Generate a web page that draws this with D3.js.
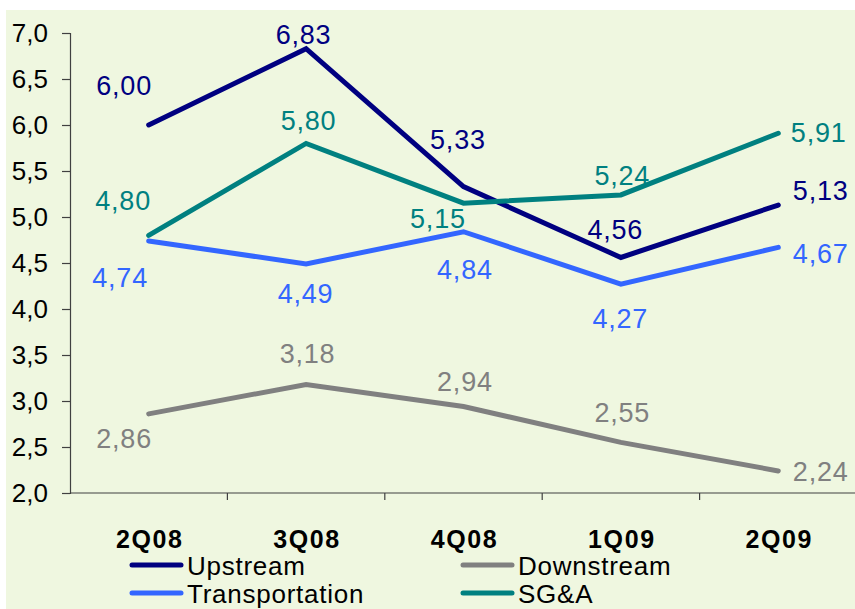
<!DOCTYPE html>
<html>
<head>
<meta charset="utf-8">
<script src="https://cdn.jsdelivr.net/npm/d3@7"></script>
<style>
  html, body { margin: 0; padding: 0; background: #ffffff; }
  svg { display: block; font-family: "Liberation Sans", Arial, sans-serif; }
</style>
</head>
<body>
<svg id="chart" width="855" height="609"></svg>
<script>
// Quarterly unit costs per segment
const quarters = ["2Q08", "3Q08", "4Q08", "1Q09", "2Q09"];
const upstream = [6.00, 6.83, 5.33, 4.56, 5.13];
const downstream = [2.86, 3.18, 2.94, 2.55, 2.24];
const transportation = [4.74, 4.49, 4.84, 4.27, 4.67];
const sga = [4.80, 5.80, 5.15, 5.24, 5.91];
const seriesNames = ["Upstream", "Downstream", "Transportation", "SG&A"];
const yTicks = [2.0, 2.5, 3.0, 3.5, 4.0, 4.5, 5.0, 5.5, 6.0, 6.5, 7.0];

const colors = {
  "Upstream": "#000080",
  "Downstream": "#808080",
  "Transportation": "#3366ff",
  "SG&A": "#008080"
};

// Value-label placement (pixel offset from each point)
const labelOffsets = {
  "Upstream":       [[-25, -40], [-3, -14], [-6, -47], [-6, -28], [42, -15]],
  "Downstream":     [[-25, 24], [1, -31], [1, -25], [1, -30], [42, 0]],
  "Transportation": [[-29, 36], [-1, 29], [1, 38], [-1, 34], [42, 6]],
  "SG&A":           [[-26, -35], [2, -23], [-26, 15], [1, -20], [40, -1]]
};

const series = [
  { name: "Upstream", values: upstream },
  { name: "Downstream", values: downstream },
  { name: "Transportation", values: transportation },
  { name: "SG&A", values: sga }
];

const svg = d3.select("#chart");
const W = 855, H = 609;
const plot = { left: 70, right: 857, top: 33, bottom: 493 };

// Chart area background
svg.append("rect")
  .attr("x", 6).attr("y", 10)
  .attr("width", W - 6).attr("height", H - 10)
  .attr("fill", "#eff7e0");

const x = d3.scaleBand().domain(quarters).range([plot.left, plot.right]);
const y = d3.scaleLinear().domain([2, 7]).range([plot.bottom, plot.top]);
const fmt = v => d3.format(".2f")(v).replace(".", ",");
const fmtTick = v => d3.format(".1f")(v).replace(".", ",");

// Y axis
const yAxis = svg.append("g")
  .attr("transform", `translate(${plot.left},0)`)
  .call(d3.axisLeft(y).tickValues(yTicks).tickSize(8).tickPadding(14).tickFormat(fmtTick));
yAxis.select(".domain").attr("stroke", "#404040").attr("stroke-width", 1.2);
yAxis.selectAll(".tick line").attr("stroke", "#404040").attr("stroke-width", 1.2);
yAxis.selectAll(".tick text")
  .attr("font-size", 26).attr("fill", "#000")
  .attr("font-family", "Liberation Sans, Arial, sans-serif");

// X axis: ticks sit on band boundaries
const bounds = quarters.map(q => x(q)).concat([plot.right]).slice(1);
const xAxisG = svg.append("g");
xAxisG.append("line")
  .attr("x1", plot.left).attr("x2", W)
  .attr("y1", plot.bottom).attr("y2", plot.bottom)
  .attr("stroke", "#404040").attr("stroke-width", 1.2);
xAxisG.selectAll("line.tk").data(bounds.slice(0, quarters.length - 1)).join("line")
  .attr("class", "tk")
  .attr("x1", d => d).attr("x2", d => d)
  .attr("y1", plot.bottom).attr("y2", plot.bottom + 7)
  .attr("stroke", "#404040").attr("stroke-width", 1.2);
xAxisG.selectAll("text").data(quarters).join("text")
  .attr("x", d => x(d) + x.bandwidth() / 2 + 1)
  .attr("y", 548)
  .attr("text-anchor", "middle")
  .attr("font-size", 25)
  .attr("font-weight", "bold")
  .attr("letter-spacing", 1.6)
  .attr("fill", "#000")
  .text(d => d);

// Lines
const line = d3.line()
  .x((d, i) => x(quarters[i]) + x.bandwidth() / 2)
  .y(d => y(d));

svg.append("g").selectAll("path").data(series).join("path")
  .attr("d", s => line(s.values))
  .attr("fill", "none")
  .attr("stroke", s => colors[s.name])
  .attr("stroke-width", 5)
  .attr("stroke-linejoin", "miter")
  .attr("stroke-linecap", "round");

// Value labels
series.forEach(s => {
  svg.append("g").selectAll("text").data(s.values).join("text")
    .attr("x", (d, i) => x(quarters[i]) + x.bandwidth() / 2 + labelOffsets[s.name][i][0] + 0.4)
    .attr("y", (d, i) => y(d) + labelOffsets[s.name][i][1] + 9.7)
    .attr("text-anchor", "middle")
    .attr("font-size", 27)
    .attr("letter-spacing", 0.8)
    .attr("fill", colors[s.name])
    .text(d => fmt(d));
});

// Legend
const legendPos = [
  { name: "Upstream", x: 132, y: 565 },
  { name: "Downstream", x: 463, y: 565 },
  { name: "Transportation", x: 132, y: 593 },
  { name: "SG&A", x: 463, y: 593 }
];
const lg = svg.append("g").selectAll("g").data(legendPos).join("g")
  .attr("transform", d => `translate(${d.x},${d.y})`);
lg.append("line")
  .attr("x1", 0).attr("x2", 49).attr("y1", 0).attr("y2", 0)
  .attr("stroke", d => colors[d.name])
  .attr("stroke-width", 5)
  .attr("stroke-linecap", "round");
lg.append("text")
  .attr("x", 55).attr("y", 9.5)
  .attr("font-size", 26)
  .attr("letter-spacing", 0.75)
  .attr("fill", "#000")
  .text(d => d.name);
</script>
</body>
</html>
